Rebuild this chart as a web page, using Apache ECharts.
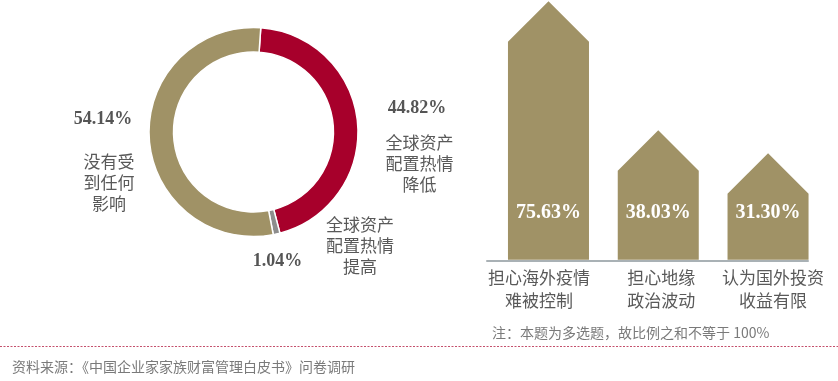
<!DOCTYPE html>
<html><head><meta charset="utf-8">
<script src="https://cdn.jsdelivr.net/npm/echarts@6/dist/echarts.min.js"></script>
<style>html,body{margin:0;padding:0;background:#fff}#c{width:838px;height:381px}</style>
</head><body><div id="c"></div>
<script>
// ---- data ----
var pieNames = ['全球资产\n配置热情\n降低', '全球资产\n配置热情\n提高', '没有受\n到任何\n影响'];
var pieValues = [44.82, 1.04, 54.14];
var pieColors = ['#a7002b', '#8d8d8d', '#a09266'];
var barCategories = ['担心海外疫情\n难被控制', '担心地缘\n政治波动', '认为国外投资\n收益有限'];
var barValues = [75.63, 38.03, 31.30];
var noteText = '注：本题为多选题，故比例之和不等于 100%';
var sourceText = '资料来源：《中国企业家家族财富管理白皮书》问卷调研';

// ---- layout (label anchors, px) ----
var valueLabelPos = [[417, 108], [277.5, 261], [103, 119]];
var nameLabelPos = [[419.5, 164], [360, 246], [109, 182.5]];

var CJK = '"Noto Sans CJK SC", "Noto Sans", sans-serif';
var SERIF = '"Liberation Serif", "DejaVu Serif", serif';

var chart = echarts.init(document.getElementById('c'));
var pieData = pieValues.map(function (v, i) {
  return { value: v, name: pieNames[i], itemStyle: { color: pieColors[i] } };
});
var pieNameData = pieValues.map(function (v, i) {
  return { value: v, name: pieNames[i] };
});

chart.setOption({
  animation: false,
  title: [
    { text: noteText, left: 487, top: 321, textStyle: { fontFamily: CJK, fontSize: 14, fontWeight: 'normal', color: '#7a7a7a' } },
    { text: sourceText, left: 7, top: 355, textStyle: { fontFamily: CJK, fontSize: 14, fontWeight: 'normal', color: '#7a7a7a' } }
  ],
  graphic: [{
    type: 'line', shape: { x1: 0, y1: 346.5, x2: 838, y2: 346.5 },
    style: { stroke: '#c4506c', lineWidth: 1, lineDash: [2, 1.5] }
  }],
  grid: { left: 487, right: 30, top: 0, height: 260.7 },
  xAxis: {
    type: 'value', min: -0.56, max: 2.364,
    splitLine: { show: false },
    axisLine: { show: true, onZero: false, lineStyle: { color: '#a9b1b5', width: 2 } },
    axisTick: { show: false },
    axisLabel: {
      customValues: [0, 1, 2],
      margin: 5,
      formatter: function (v) {
        var i = Math.round(v);
        return '{c' + i + '|' + barCategories[i].split('\n').join('}\n{c' + i + '|') + '}';
      },
      rich: {
        c0: { fontFamily: CJK, fontSize: 17, color: '#595959', lineHeight: 23, padding: [0, 19, 0, 0] },
        c1: { fontFamily: CJK, fontSize: 17, color: '#595959', lineHeight: 23, padding: [0, 0, 0, 6] },
        c2: { fontFamily: CJK, fontSize: 17, color: '#595959', lineHeight: 23, padding: [0, 0, 0, 10] }
      }
    }
  },
  yAxis: { type: 'value', min: 0, max: 76, show: false },
  series: [
    {
      type: 'pie', center: [253.5, 132], radius: [80, 104.5], startAngle: 86, clockwise: true,
      silent: true,
      itemStyle: { borderColor: '#fff', borderWidth: 1.5 },
      labelLine: { show: false },
      label: {
        show: true, position: 'outside',
        formatter: function (p) { return p.value.toFixed(2) + '%'; },
        fontFamily: SERIF, fontWeight: 'bold', fontSize: 18, color: '#555555'
      },
      labelLayout: function (p) {
        var q = valueLabelPos[p.dataIndex];
        return { x: q[0], y: q[1], align: 'center', verticalAlign: 'middle' };
      },
      data: pieData
    },
    {
      type: 'pie', center: [253.5, 132], radius: [80, 104.5], startAngle: 86, clockwise: true,
      silent: true, z: 1,
      itemStyle: { color: 'rgba(0,0,0,0)', borderWidth: 0 },
      labelLine: { show: false },
      label: {
        show: true, position: 'outside', formatter: '{b}',
        fontFamily: CJK, fontSize: 17, lineHeight: 21, color: '#595959', align: 'center'
      },
      labelLayout: function (p) {
        var q = nameLabelPos[p.dataIndex];
        return { x: q[0], y: q[1], align: 'center', verticalAlign: 'middle' };
      },
      data: pieNameData
    },
    {
      type: 'custom',
      renderItem: function (params, api) {
        var i = api.value(0), v = api.value(1);
        var peak = api.coord([i, v]);
        var base = api.coord([i, 0]);
        var hw = api.size([0.738, 0])[0] / 2;
        var cx = peak[0];
        var sh = peak[1] + hw;
        return {
          type: 'group',
          children: [{
            type: 'polygon',
            shape: { points: [[cx - hw, base[1] - 1], [cx - hw, sh], [cx, peak[1]], [cx + hw, sh], [cx + hw, base[1] - 1]] },
            style: { fill: '#a09266' }
          }, {
            type: 'text',
            x: cx, y: base[1] - 48,
            style: {
              text: v.toFixed(2) + '%', fill: '#fff', align: 'center', verticalAlign: 'middle',
              font: 'bold 20px ' + SERIF
            }
          }]
        };
      },
      data: barValues.map(function (v, i) { return [i, v]; })
    }
  ]
});
</script>
</body></html>
